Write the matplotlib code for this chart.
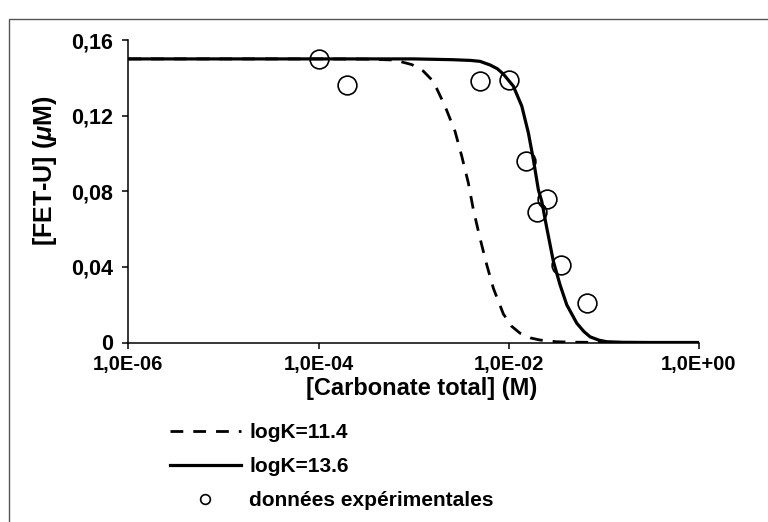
import numpy as np
import matplotlib
matplotlib.use("Agg")
import matplotlib.pyplot as plt
from matplotlib.lines import Line2D
from matplotlib.patches import Rectangle
from matplotlib.ticker import FixedLocator, NullLocator

plt.rcParams['font.family'] = ['Liberation Sans', 'DejaVu Sans']
plt.rcParams['font.weight'] = 'bold'
plt.rcParams['mathtext.fontset'] = 'custom'
plt.rcParams['mathtext.rm'] = 'Liberation Sans:bold'
plt.rcParams['mathtext.it'] = 'Liberation Sans:italic:bold'
plt.rcParams['mathtext.bf'] = 'Liberation Sans:bold'

# experimental data
exp_x = [1e-4, 2e-4, 5e-3, 1e-2, 1.5e-2, 2e-2, 2.5e-2, 3.5e-2, 6.6e-2]
exp_y = [0.150, 0.136, 0.1385, 0.139, 0.096, 0.069, 0.076, 0.041, 0.021]

# model curve logK=11.4 (log10 of carbonate)
k114_logx = [-6.0, -5.0, -4.0, -3.5, -3.2, -3.02, -2.9, -2.793, -2.67, -2.565, -2.494,
             -2.425, -2.372, -2.302, -2.231, -2.162, -2.057, -1.97, -1.881, -1.77,
             -1.671, -1.5, -1.355, -1.0, -0.5, 0.0]
k114_y = [0.150, 0.150, 0.150, 0.1499, 0.1494, 0.147, 0.1436, 0.1381, 0.1250, 0.1117, 0.0985,
          0.0844, 0.0702, 0.0551, 0.0410, 0.0287, 0.0151, 0.0086, 0.0049, 0.0024,
          0.0013, 0.0004, 0.0002, 0.0, 0.0, 0.0]

# model curve logK=13.6
k136_logx = [-6.0, -5.0, -4.0, -3.0, -2.6, -2.4, -2.302, -2.197, -2.12, -2.057, -1.952,
             -1.863, -1.794, -1.741, -1.689, -1.653, -1.600, -1.531, -1.461, -1.390,
             -1.285, -1.21, -1.145, -1.05, -0.969, -0.8, -0.5, 0.0]
k136_y = [0.150, 0.150, 0.150, 0.150, 0.1496, 0.1492, 0.1487, 0.1468, 0.1448, 0.1420, 0.1356,
          0.1250, 0.1109, 0.0967, 0.0808, 0.0746, 0.0605, 0.0429, 0.0305, 0.0199,
          0.0102, 0.0058, 0.0030, 0.0012, 0.0004, 0.0001, 0.0, 0.0]

xticks = [1e-6, 1e-4, 1e-2, 1e0]
xtick_labels = ['1,0E-06', '1,0E-04', '1,0E-02', '1,0E+00']
yticks = [0, 0.04, 0.08, 0.12, 0.16]
ytick_labels = ['0', '0,04', '0,08', '0,12', '0,16']

DASH = (0, (4.6, 3.6))

fig = plt.figure(figsize=(7.68, 5.22), dpi=100)
fig.patches.append(Rectangle((9/768, -0.1), 1.2, 1 - 19/522 + 0.1, transform=fig.transFigure,
                             fill=False, edgecolor='#555555', linewidth=1.0))

ax = fig.add_axes([128.3/768, 1 - 342.5/522, (699 - 128.3)/768, (342.5 - 40)/522])

ax.plot(10 ** np.array(k114_logx), k114_y, color='black', lw=2.0,
        linestyle=DASH, solid_capstyle='butt', zorder=2)
ax.plot(10 ** np.array(k136_logx), k136_y, color='black', lw=2.3, zorder=3)
ax.plot(exp_x, exp_y, linestyle='none', marker='o', markersize=13.5,
        markerfacecolor='none', markeredgecolor='black', markeredgewidth=1.2, zorder=4)

ax.set_xscale('log')
ax.set_xlim(1e-6, 1e0)
ax.set_ylim(0, 0.16)
ax.xaxis.set_major_locator(FixedLocator(xticks))
ax.xaxis.set_minor_locator(NullLocator())
ax.set_xticklabels(xtick_labels)
ax.set_yticks(yticks)
ax.set_yticklabels(ytick_labels)
for s in ['top', 'right']:
    ax.spines[s].set_visible(False)
for s in ['left', 'bottom']:
    ax.spines[s].set_linewidth(1.1)
ax.tick_params(axis='both', direction='out', length=4.2, width=1.1)
ax.tick_params(axis='x', labelsize=14.5, pad=5)
ax.tick_params(axis='y', labelsize=15.5, pad=7)
for lab in ax.get_xticklabels() + ax.get_yticklabels():
    lab.set_fontweight('bold')

ax.set_xlabel('[Carbonate total] (M)', fontsize=17, fontweight='bold')
ax.xaxis.label.set_va('center')
ax.xaxis.set_label_coords((422 - 128.3) / 570.7, -(389 - 342.5) / 302.5)
ax.set_ylabel(r'[FET-U] ($\mu$M)', fontsize=18, fontweight='bold')
ax.yaxis.label.set_va('center')
ax.yaxis.set_label_coords((45 - 128.3) / 570.7, (342.5 - 171) / 302.5)

handles = [Line2D([], [], color='black', lw=2.0, linestyle=DASH),
           Line2D([], [], color='black', lw=2.3),
           Line2D([], [], linestyle='none', marker='o', markersize=7,
                  markerfacecolor='none', markeredgecolor='black', markeredgewidth=1.2)]
labels = ['logK=11.4', 'logK=13.6', 'données expérimentales']
fig.legend(handles, labels, loc='upper left', bbox_to_anchor=(170/768, 1 - 423/522),
           frameon=False, handlelength=3.4, handletextpad=0.4,
           labelspacing=0.72, borderpad=0, borderaxespad=0,
           prop={'weight': 'bold', 'size': 15})

fig.savefig('out.png', dpi=100)
